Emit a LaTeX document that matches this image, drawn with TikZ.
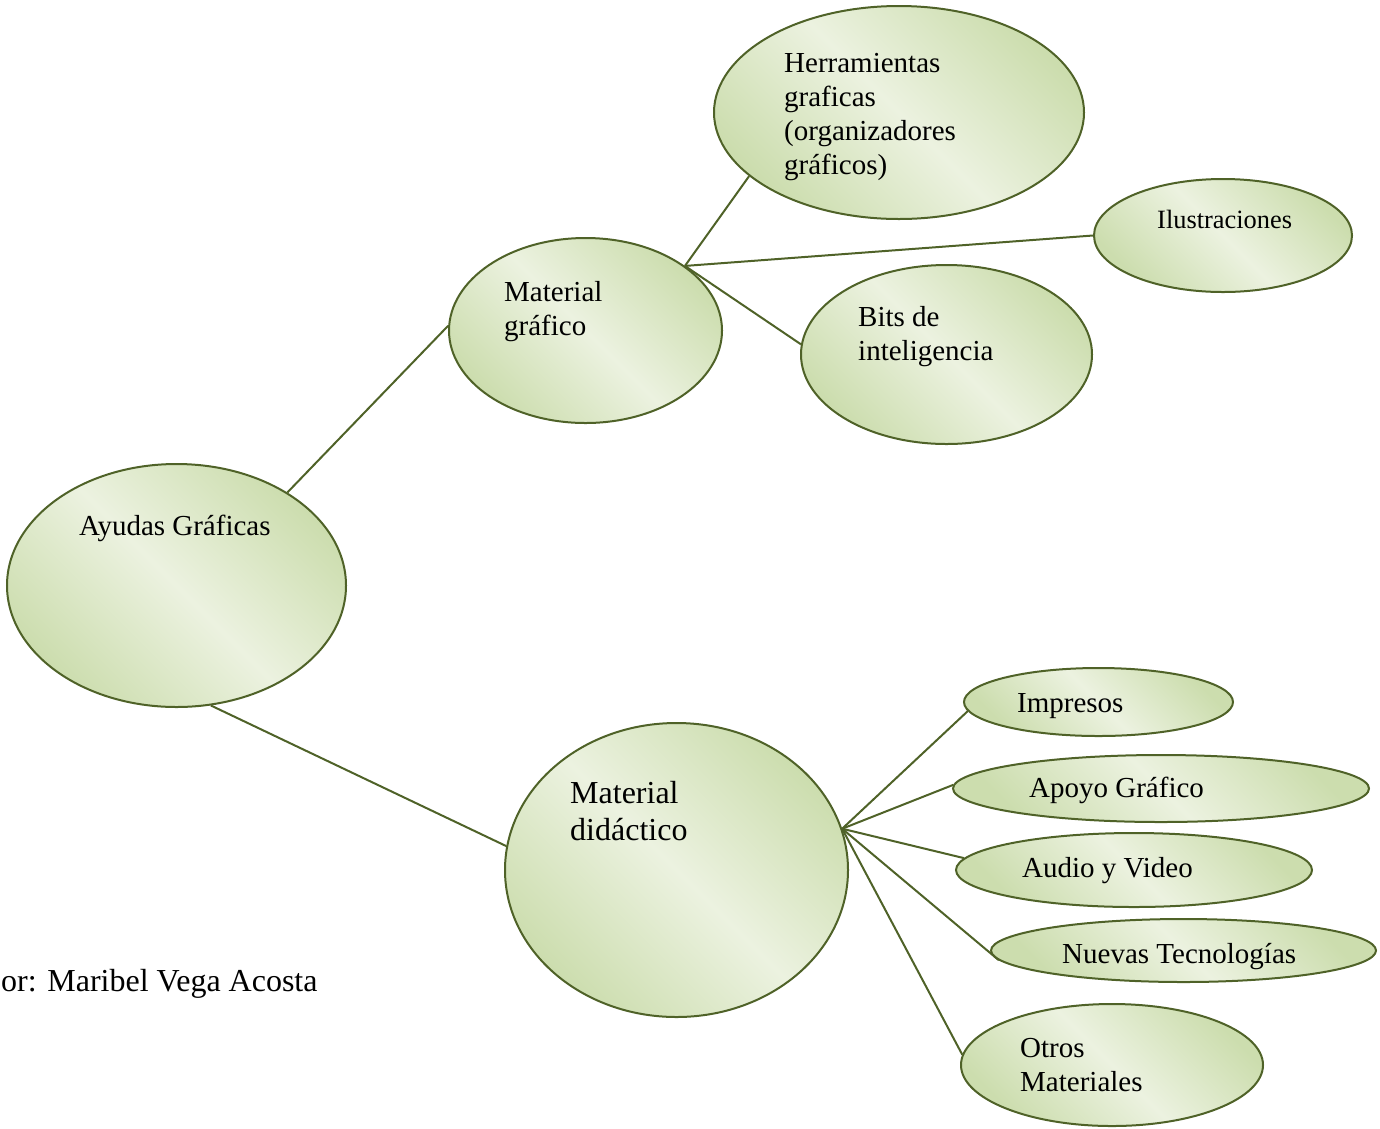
\documentclass[tikz,border=0pt]{standalone}
\usepackage{fontspec}
\setmainfont{Liberation Serif}
\usepackage{xcolor}
\usetikzlibrary{shapes.geometric,positioning}
\definecolor{bubbleline}{RGB}{79,98,40}
\definecolor{bubbledark}{RGB}{204,221,174}
\definecolor{bubblelight}{RGB}{236,242,224}

\begin{document}
\begin{tikzpicture}[x=1pt,y=-1pt,
      bubble/.style={
         ellipse,
         draw=bubbleline,
         line width=2pt,
         inner sep=0pt,
         top color=bubbledark,
         bottom color=bubbledark,
         middle color=bubblelight,
         shading angle=-45},
      label/.style={
         anchor=base west,
         inner sep=0pt,
         align=left,
         font=\fontsize{29}{34}\selectfont},
      link/.style={draw=bubbleline,line width=2pt}
      ]
      \useasboundingbox (0,0) rectangle (1380,1128);

      % ellipses
      \node[bubble,minimum width=339,minimum height=243] (ag) at (176.5,585.5) {};
      \node[bubble,minimum width=273,minimum height=185] (mg) at (585.5,330.5) {};
      \node[bubble,minimum width=370,minimum height=213] (he) at (899,112.5) {};
      \node[bubble,minimum width=258,minimum height=113] (il) at (1223,235.5) {};
      \node[bubble,minimum width=291,minimum height=179] (bi) at (946.5,354.5) {};
      \node[bubble,minimum width=343,minimum height=294] (md) at (676.5,870) {};
      \node[bubble,minimum width=269,minimum height=68] (im) at (1098.5,702) {};
      \node[bubble,minimum width=416,minimum height=67] (ap) at (1161,788.5) {};
      \node[bubble,minimum width=356,minimum height=74] (au) at (1134,870) {};
      \node[bubble,minimum width=385,minimum height=63] (nt) at (1183.5,950.5) {};
      \node[bubble,minimum width=302,minimum height=122] (ot) at (1112,1065) {};

      % texts (multi-line ones sit on the baseline of their last line)
      \node[label] (agt) at (79,535) {Ayudas Gráficas};
      \node[label] (mgt) at (504,335) {Material\\gráfico};
      \node[label] (het) at (784,174) {Herramientas\\graficas\\(organizadores\\gráficos)};
      \node[label,font=\fontsize{26.4}{31}\selectfont] (ilt) at (1157,228) {Ilustraciones};
      \node[label] (bit) at (858,360) {Bits de\\inteligencia};
      \node[label,font=\fontsize{32}{37}\selectfont] (mdt) at (570,840) {Material\\didáctico};
      \node[label] (imt) at (1017,712) {Impresos};
      \node[label] (apt) at (1029,797) {Apoyo Gráfico};
      \node[label] (aut) at (1022,877) {Audio y Video};
      \node[label] (ntt) at (1062,963) {Nuevas Tecnologías};
      \node[label] (ott) at (1020,1091) {Otros\\Materiales};
      \node[label,font=\fontsize{32}{37}\selectfont] (autor) at (1,991) {or: Maribel Vega Acosta};

    \foreach \i/\j in {% start node/end node
      ag.40/mg.178,
      ag.286/md.172,
      mg.33/he.203,
      mg.33/il.west,
      mg.33/bi.176,
      md.14/im.184,
      md.14/ap.179,
      md.14/au.176,
      md.14/nt.183,
      md.14/ot.176}
       \draw [link] (\i) -- (\j);
    \end{tikzpicture}
\end{document}
